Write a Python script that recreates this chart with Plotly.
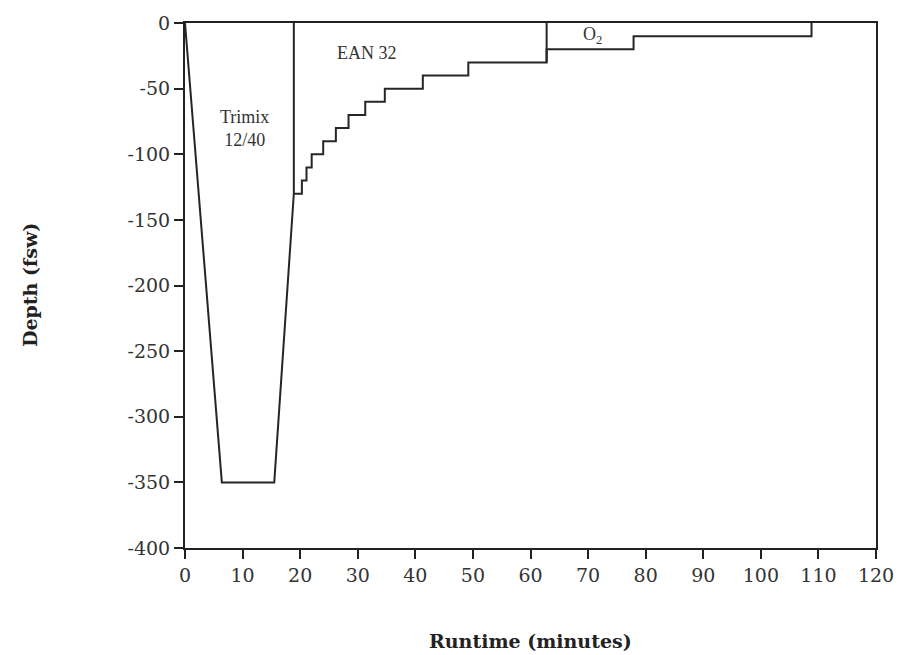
import plotly.graph_objects as go

# Dive profile (runtime in minutes, depth in fsw)
runtime = [0, 6.4, 15.5, 18.9, 20.3, 20.3, 21.1, 21.1, 22.0, 22.0, 24.0, 24.0,
           26.2, 26.2, 28.4, 28.4, 31.3, 31.3, 34.7, 34.7, 41.3, 41.3, 49.2, 49.2,
           62.8, 62.8, 77.9, 77.9, 108.8, 108.8]
depth = [0, -350, -350, -130, -130, -120, -120, -110, -110, -100, -100, -90,
         -90, -80, -80, -70, -70, -60, -60, -50, -50, -40, -40, -30,
         -30, -20, -20, -10, -10, 0]

# Gas switch markers (vertical dividers from surface down to the profile)
switch_times = [18.9, 62.8]
switch_depths = [-130, -30]

# Gas labels
gas_labels = ["Trimix<br>12/40", "EAN 32", "O<sub>2</sub>"]
gas_label_x = [10.25, 31.6, 70.8]
gas_label_y = [-80, -22.6, -9.5]

x_ticks = list(range(0, 121, 10))
y_ticks = [0, -50, -100, -150, -200, -250, -300, -350, -400]
y_tick_text = ["0", "-50", "-100", "-150", "-200", "-250", "-300", "-350", "-400"]

line_color = "#262626"

sx, sy = [], []
for t, d in zip(switch_times, switch_depths):
    sx += [t, t, None]
    sy += [0, d, None]

fig = go.Figure()
fig.add_trace(go.Scatter(x=runtime, y=depth, mode="lines",
                         line=dict(color=line_color, width=2), showlegend=False))
fig.add_trace(go.Scatter(x=sx, y=sy, mode="lines",
                         line=dict(color=line_color, width=2), showlegend=False))

for txt, x, y in zip(gas_labels, gas_label_x, gas_label_y):
    fig.add_annotation(x=x, y=y, text=txt, showarrow=False,
                       font=dict(family="Liberation Serif", size=18, color="#333"))

tick_font = dict(family="DejaVu Serif", size=19, color="#333")
title_font = dict(family="DejaVu Serif", size=19, color="#222")

fig.update_xaxes(range=[0, 120], tickvals=x_ticks, ticks="outside", ticklen=9,
                 tickwidth=2, tickcolor="#222", showline=True, linewidth=2,
                 linecolor="#222", mirror=True, showgrid=False, zeroline=False,
                 tickfont=tick_font)
fig.update_yaxes(range=[-400, 0], tickvals=y_ticks, ticktext=y_tick_text,
                 ticks="outside", ticklen=9, tickwidth=2, tickcolor="#222",
                 showline=True, linewidth=2, linecolor="#222", mirror=True,
                 showgrid=False, zeroline=False, tickfont=tick_font)

fig.add_annotation(xref="paper", yref="paper", x=0.5, y=-0.178, yanchor="middle",
                   text="<b>Runtime (minutes)</b>", showarrow=False, font=title_font)
fig.add_annotation(xref="paper", yref="paper", x=-0.225, y=0.5, xanchor="center",
                   text="<b>Depth (fsw)</b>", textangle=-90, showarrow=False,
                   font=title_font)

fig.update_layout(width=913, height=655,
                  margin=dict(l=185, r=37, t=17, b=107),
                  plot_bgcolor="white", paper_bgcolor="white")

fig.write_html("out.html")
